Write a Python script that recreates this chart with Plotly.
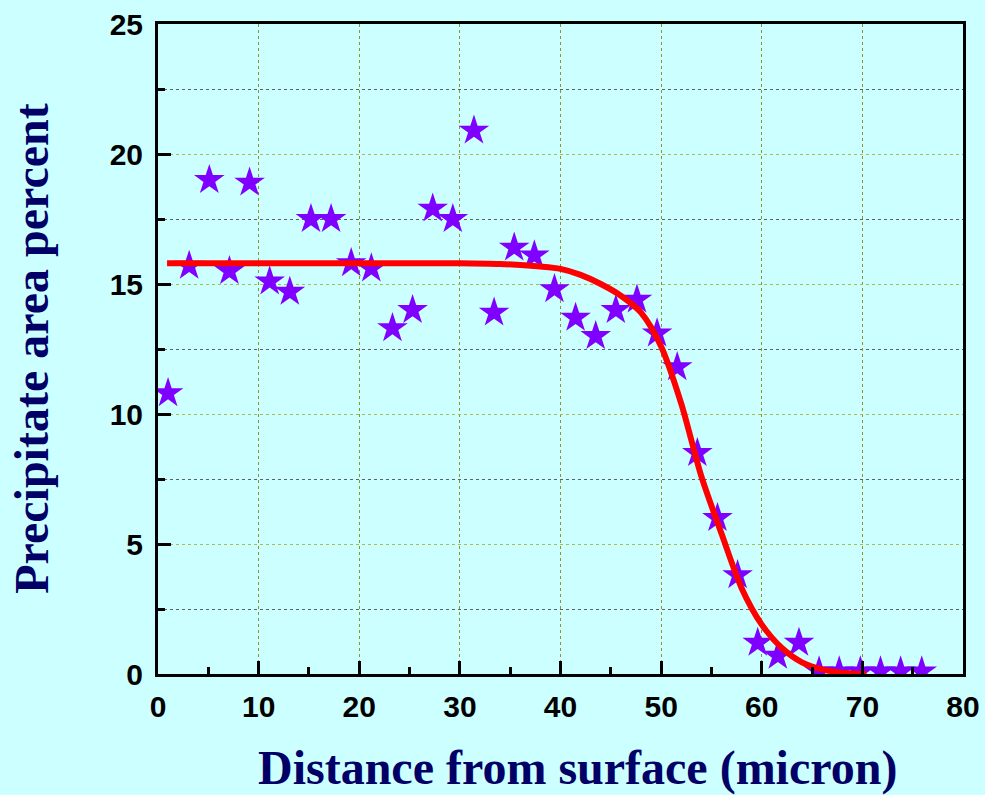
import plotly.graph_objects as go

# Measured precipitate area fraction vs. depth
distance = [1.0, 3.1, 5.1, 7.1, 9.1, 11.1, 13.1, 15.2, 17.2, 19.2,
            21.2, 23.3, 25.3, 27.3, 29.3, 31.4, 33.4, 35.4, 37.4, 39.4,
            41.5, 43.5, 45.5, 47.6, 49.6, 51.6, 53.6, 55.6, 57.6, 59.6,
            61.6, 63.7, 65.7, 67.7, 69.8, 71.8, 73.8, 75.9]
area_pct = [10.8, 15.7, 19.0, 15.5, 18.9, 15.1, 14.7, 17.5, 17.5, 15.8,
            15.6, 13.3, 14.0, 17.9, 17.5, 20.9, 13.9, 16.4, 16.1, 14.8,
            13.7, 13.0, 14.0, 14.4, 13.1, 11.8, 8.5, 6.0, 3.8, 1.2,
            0.7, 1.2, 0.1, 0.1, 0.1, 0.1, 0.1, 0.1]

# Fitted profile
fit_x = [0.9, 10, 20, 30, 34, 38, 40, 42, 44, 46, 48, 50, 52,
         54, 56, 58, 60, 62, 64, 66, 68, 70.4]
fit_y = [15.8, 15.8, 15.8, 15.8, 15.77, 15.67, 15.58, 15.35, 15.0, 14.55,
         13.9, 12.6, 10.4, 7.6, 5.4, 3.3, 1.9, 1.0, 0.45, 0.18, 0.05, 0.0]

x_ticks = [0, 10, 20, 30, 40, 50, 60, 70, 80]
y_ticks = [0, 5, 10, 15, 20, 25]

x_title = "Distance from surface (micron)"
y_title = "Precipitate area percent"

bg = "#ccffff"
navy = "#000066"
tick_family = "Liberation Sans, Arial"
title_family = "Liberation Serif, Times New Roman"

fig = go.Figure()
fig.add_trace(go.Scatter(
    x=distance, y=area_pct, mode="markers",
    marker=dict(symbol="star", size=23, color="#7f00ff",
                line=dict(width=0)),
    showlegend=False,
))
fig.add_trace(go.Scatter(
    x=fit_x, y=fit_y, mode="lines",
    line=dict(color="#ff0000", width=6, shape="spline", smoothing=0.8),
    showlegend=False,
))

axis_common = dict(
    showline=True, linecolor="black", linewidth=3, mirror=True,
    ticks="inside", tickcolor="black", tickwidth=3, ticklen=13,
    zeroline=False, automargin=False,
    griddash="dot", gridwidth=1,
)

fig.update_xaxes(
    **axis_common,
    range=[0, 80], tickvals=x_ticks, ticktext=[str(v) for v in x_ticks],
    tickfont=dict(family=tick_family, size=30, color="black", weight="bold"),
    ticklabelstandoff=4,
    showgrid=True, gridcolor="#939326",
    minor=dict(dtick=10, tick0=5, ticks="inside", ticklen=7, tickwidth=3,
               tickcolor="black", showgrid=False),
)

fig.update_yaxes(
    **axis_common,
    range=[0, 25], tickvals=y_ticks, ticktext=[str(v) for v in y_ticks],
    tickfont=dict(family=tick_family, size=30, color="black", weight="bold"),
    ticklabelstandoff=6,
    showgrid=True, gridcolor="#adbc46",
    minor=dict(dtick=5, tick0=2.5, ticks="inside", ticklen=7, tickwidth=3,
               tickcolor="black", showgrid=True, gridcolor="#606060",
               griddash="dot", gridwidth=1),
)

title_font = dict(family=title_family, size=48, color=navy, weight="bold")
fig.add_annotation(
    text=x_title, xref="paper", yref="paper",
    x=0.521, y=-0.144, xanchor="center", yanchor="middle",
    showarrow=False, font=title_font,
)
fig.add_annotation(
    text=y_title, xref="paper", yref="paper",
    x=-0.158, y=0.5, xanchor="center", yanchor="middle", textangle=-90,
    showarrow=False, font=title_font,
)

fig.update_layout(
    width=985, height=795,
    paper_bgcolor=bg, plot_bgcolor=bg,
    margin=dict(l=158, r=22, t=24, b=121),
)

fig.write_html("out.html")
